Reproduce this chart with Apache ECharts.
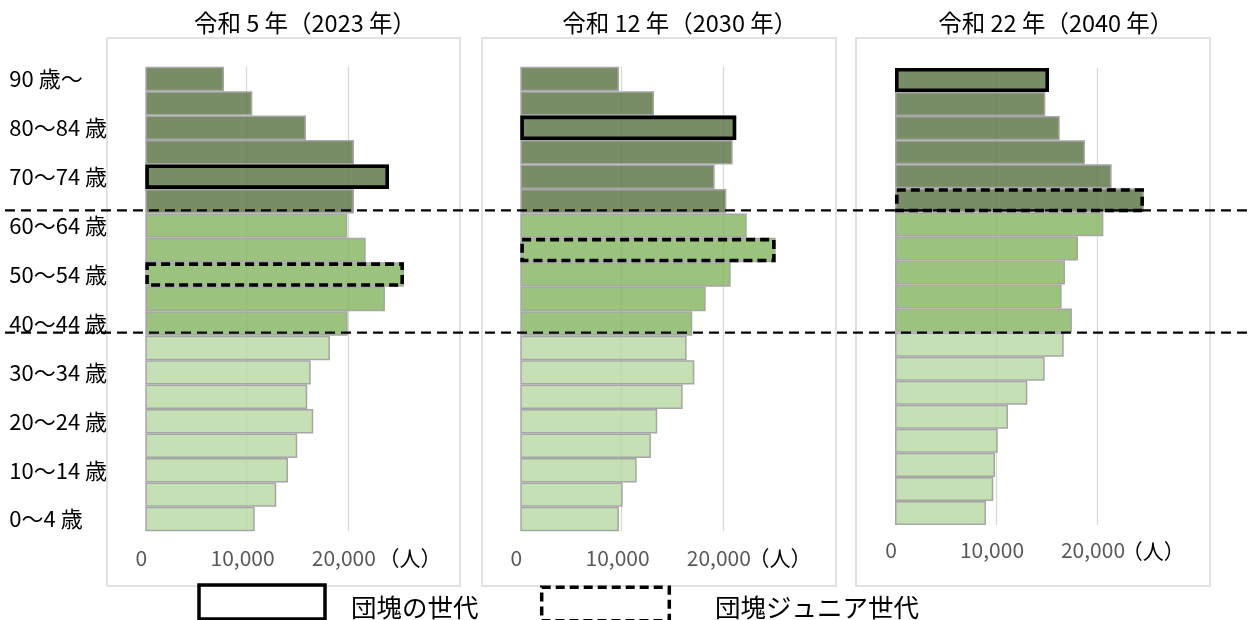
<!DOCTYPE html>
<html>
<head>
<meta charset="utf-8">
<script src="https://cdn.jsdelivr.net/npm/echarts@6/dist/echarts.min.js"></script>
<style>html,body{margin:0;padding:0;background:#fff}#c{width:1251px;height:620px}</style>
</head>
<body>
<div id="c"></div>
<script>
// ---- data ----
const ageGroups = ['0～4 歳','5～9 歳','10～14 歳','15～19 歳','20～24 歳','25～29 歳','30～34 歳','35～39 歳','40～44 歳','45～49 歳','50～54 歳','55～59 歳','60～64 歳','65～69 歳','70～74 歳','75～79 歳','80～84 歳','85～89 歳','90 歳～'];
const panelTitles = ['令和 5 年（2023 年）','令和 12 年（2030 年）','令和 22 年（2040 年）'];
const pop2023 = [10800,12930,14090,15000,16580,15990,16330,18230,19980,23660,25540,21760,19940,20600,24060,20600,15860,10560,7770];
const pop2030 = [9740,10110,11490,12900,13520,16030,17180,16420,16980,18300,20770,25210,22350,20340,19190,20970,21320,13200,9740];
const pop2040 = [9010,9730,9900,10170,11190,13100,14820,16700,17520,16500,16830,18120,20630,24650,21450,18810,16310,14880,15250];
const dankaiIndex = [14, 16, 18];   // 団塊の世代
const juniorIndex = [10, 11, 13];   // 団塊ジュニア世代
const xTicks = [0, 10000, 20000];
const unitLabel = '（人）';
const legendLabels = ['団塊の世代', '団塊ジュニア世代'];

const panels = [pop2023, pop2030, pop2040];
const FONT = "'Noto Sans CJK JP','Noto Sans',sans-serif";
const colorLight = 'rgba(183,216,161,0.8)';
const colorMid = 'rgba(130,180,93,0.8)';
const colorDark = 'rgba(86,112,64,0.8)';
function groupColor(i){ return i < 8 ? colorLight : (i < 13 ? colorMid : colorDark); }
function fmt(v){ return String(v).replace(/\B(?=(\d{3})+(?!\d))/g, ','); }

const gridLayout = [
  {left:145.3, top:66.7, width:283.6, height:464.6},
  {left:520.3, top:66.7, width:283.6, height:464.6},
  {left:895, top:68, width:282.8, height:457}
];

const chart = echarts.init(document.getElementById('c'), null, {renderer:'canvas'});
const grid = [], xAxis = [], yAxis = [], series = [];
panels.forEach((vals, p) => {
  grid.push(Object.assign({outerBoundsMode:'none', containLabel:false}, gridLayout[p]));
  xAxis.push({
    type:'value', gridIndex:p, min:0, max:28000, interval:10000,
    axisLine:{show:false}, axisTick:{show:false},
    splitLine:{show:true, showMinLine:false, showMaxLine:false, lineStyle:{color:'#d9d9d9', width:1.3}},
    axisLabel:{showMaxLabel:false, color:'#595959', fontSize:21, fontFamily:FONT, margin:p===2?15:16,
      padding:[0,8,0,0],
      formatter:v => xTicks.indexOf(v) >= 0 ? fmt(v) : ''}
  });
  yAxis.push({
    type:'category', gridIndex:p, data:ageGroups,
    axisLine:{show:false}, axisTick:{show:false}, splitLine:{show:false},
    axisLabel:{show:p===0, interval:1, align:'left', margin:136, fontSize:22, color:'#000', fontFamily:FONT}
  });
  yAxis.push({
    type:'category', gridIndex:p, data:ageGroups, show:false
  });
  series.push({
    type:'bar', xAxisIndex:p, yAxisIndex:2*p, barCategoryGap:'0%', silent:true, z:2,
    itemStyle:{borderColor:'#a6a6a6', borderWidth:1.5},
    data: vals.map((v,i) => ({value:v, itemStyle:{color:groupColor(i)}}))
  });
  series.push({
    type:'bar', xAxisIndex:p, yAxisIndex:2*p+1, barCategoryGap:'0%', silent:true, z:3,
    itemStyle:{color:'rgba(0,0,0,0)', borderColor:'#000', borderWidth:3.6},
    data: vals.map((v,i) => {
      if (i === dankaiIndex[p]) return {value:v, itemStyle:{borderType:'solid'}};
      if (i === juniorIndex[p]) return {value:v, itemStyle:{borderType:[9,5]}};
      return '-';
    })
  });
});

chart.setOption({
  animation:false,
  backgroundColor:'#fff',
  textStyle:{fontFamily:FONT},
  grid, xAxis, yAxis, series
});

// annotations
const g = [];
const boxes = [[107,38,353,548],[482,38,354,548],[856,38,354,548]];
boxes.forEach(b => g.push({type:'rect', z:0, shape:{x:b[0], y:b[1], width:b[2], height:b[3]},
  style:{fill:'none', stroke:'#d9d9d9', lineWidth:1.5}}));
const titleX = [305, 679.7, 1055.8];
panelTitles.forEach((t,i) => g.push({type:'text', z:10, x:titleX[i], y:23,
  style:{text:t, fill:'#000', font:'23.5px ' + FONT, textAlign:'center', textVerticalAlign:'middle'}}));
const unitPos = [[410,558],[780,558],[1153.3,550.7]];
unitPos.forEach(u => g.push({type:'text', z:10, x:u[0], y:u[1],
  style:{text:unitLabel, fill:'#000', font:'21px ' + FONT, textAlign:'center', textVerticalAlign:'middle'}}));
// horizontal dashed separators between age bands (computed from the category axis)
function boundary(a,b){
  const ya = chart.convertToPixel({yAxisIndex:0}, a);
  const yb = chart.convertToPixel({yAxisIndex:0}, b);
  return (ya+yb)/2 - 3;
}
[boundary(12,13), boundary(7,8)].forEach(y => g.push({type:'line', z:100,
  shape:{x1:5, y1:y, x2:1251, y2:y}, style:{stroke:'#000', lineWidth:2.2, lineDash:[10,6]}}));
// legend
g.push({type:'rect', z:10, shape:{x:199, y:585, width:126, height:34}, style:{fill:'none', stroke:'#000', lineWidth:3.5}});
g.push({type:'text', z:10, x:351, y:607, style:{text:legendLabels[0], fill:'#000', font:'25.5px ' + FONT, textVerticalAlign:'middle'}});
g.push({type:'rect', z:10, shape:{x:541.7, y:587.3, width:127.6, height:33.5}, style:{fill:'none', stroke:'#000', lineWidth:3.5, lineDash:[9,5]}});
g.push({type:'text', z:10, x:715, y:607, style:{text:legendLabels[1], fill:'#000', font:'25.5px ' + FONT, textVerticalAlign:'middle'}});
chart.setOption({graphic:g});
</script>
</body>
</html>
